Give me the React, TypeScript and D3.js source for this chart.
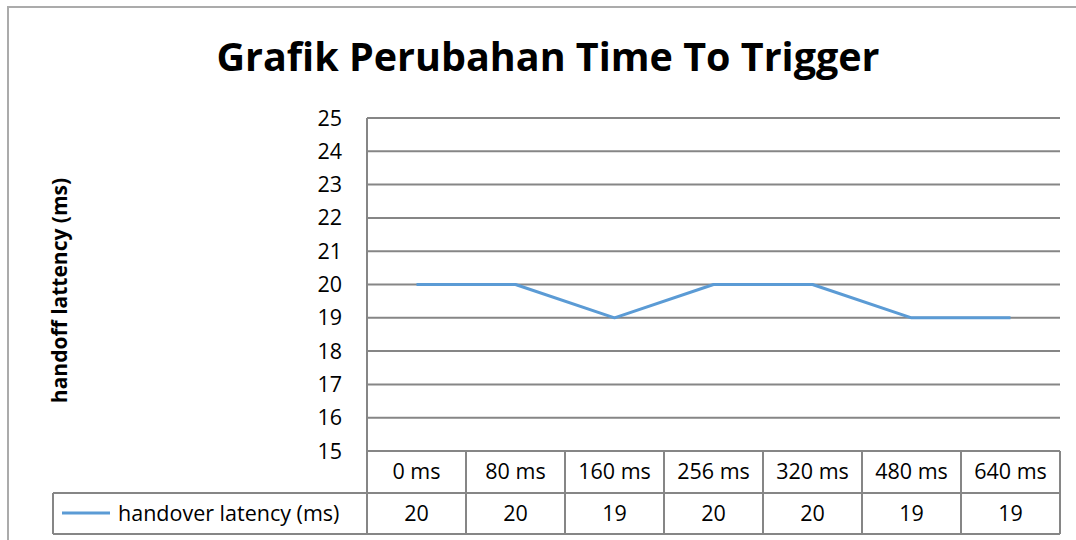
import React from 'react';
import { scaleBand, scaleLinear, line, range } from 'd3';

const categories = ['0 ms', '80 ms', '160 ms', '256 ms', '320 ms', '480 ms', '640 ms'];
const latency = [20, 20, 19, 20, 20, 19, 19];
const yTicks = range(15, 26);
const seriesName = 'handover latency (ms)';

const W = 1076;
const H = 540;
const plot = { left: 367, right: 1060, top: 118, bottom: 451 };
const row1 = 493;
const row2 = 534;
const legendLeft = 53;
const font = '"Open Sans", "Noto Sans", sans-serif';
const gridColor = '#868686';
const lineColor = '#5B9BD5';

const App = () => {
  const x = scaleBand<string>().domain(categories).range([plot.left, plot.right]);
  const y = scaleLinear().domain([15, 25]).range([plot.bottom, plot.top]);
  const pts = categories.map((c, i) => [x(c)! + x.bandwidth() / 2, y(latency[i])] as [number, number]);
  const path = line()(pts);

  return (
    <svg width={W} height={H} style={{ position: 'absolute', left: 0, top: 0 }} fontFamily={font}>
      <rect x={0} y={0} width={W} height={H} fill="#fff" />
      <rect x={8} y={7} width={W + 10} height={H + 10} fill="none" stroke="#ABABAB" strokeWidth={2} />

      <text x={548} y={71} textAnchor="middle" fontSize={39.5} fontWeight="bold" fill="#000">
        Grafik Perubahan Time To Trigger
      </text>

      <text
        transform={`translate(67,${(plot.top + plot.bottom) / 2 + 6}) rotate(-90)`}
        textAnchor="middle"
        fontSize={21}
        fontWeight="bold"
        fill="#000"
      >
        handoff lattency (ms)
      </text>

      {yTicks.map((t) => (
        <g key={t}>
          {t > 15 && (
            <line x1={plot.left} x2={plot.right} y1={y(t)} y2={y(t)} stroke={gridColor} strokeWidth={2} />
          )}
          <text x={342} y={y(t) + 7.5} textAnchor="end" fontSize={21.5} fill="#000">
            {t}
          </text>
        </g>
      ))}

      {/* data table */}
      <line x1={plot.left} x2={plot.right} y1={plot.bottom} y2={plot.bottom} stroke={gridColor} strokeWidth={2} />
      <line x1={legendLeft} x2={plot.right} y1={row1} y2={row1} stroke={gridColor} strokeWidth={2} />
      <line x1={legendLeft} x2={plot.right} y1={row2} y2={row2} stroke={gridColor} strokeWidth={2} />
      <line x1={plot.left} x2={plot.left} y1={plot.top} y2={row2} stroke={gridColor} strokeWidth={2} />
      <line x1={legendLeft} x2={legendLeft} y1={row1} y2={row2} stroke={gridColor} strokeWidth={2} />
      {categories.map((c) => (
        <line
          key={c}
          x1={x(c)! + x.bandwidth()}
          x2={x(c)! + x.bandwidth()}
          y1={plot.bottom}
          y2={row2}
          stroke={gridColor}
          strokeWidth={2}
        />
      ))}
      {categories.map((c, i) => (
        <g key={'t' + c}>
          <text x={x(c)! + x.bandwidth() / 2} y={479} textAnchor="middle" fontSize={21.5} fill="#000">
            {c}
          </text>
          <text x={x(c)! + x.bandwidth() / 2} y={521} textAnchor="middle" fontSize={21.5} fill="#000">
            {latency[i]}
          </text>
        </g>
      ))}
      <line x1={62} x2={110} y1={513} y2={513} stroke={lineColor} strokeWidth={3} />
      <text x={118} y={521} fontSize={21.5} fill="#000">
        {seriesName}
      </text>

      <path d={path!} fill="none" stroke={lineColor} strokeWidth={3} strokeLinejoin="round" />
    </svg>
  );
};

export default App;
